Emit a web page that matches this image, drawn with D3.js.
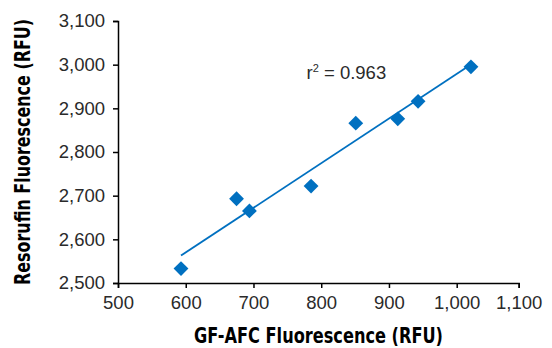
<!DOCTYPE html>
<html><head><meta charset="utf-8">
<script src="https://cdn.jsdelivr.net/npm/d3@7"></script>
<style>
html,body{margin:0;padding:0;background:#fff;}
svg{display:block;}
</style></head>
<body>
<svg id="chart" width="552" height="348"></svg>
<script>
// data
const gfAfc = [593, 675, 694, 785, 851, 913, 943, 1023];
const resorufin = [2533, 2693, 2665, 2722, 2866, 2876, 2916, 2995];
const xTicks = [500, 600, 700, 800, 900, 1000, 1100];
const yTicks = [2500, 2600, 2700, 2800, 2900, 3000, 3100];
const r2Label = "0.963";
const xTitle = "GF-AFC Fluorescence (RFU)";
const yTitle = "Resorufin Fluorescence (RFU)";

const svg = d3.select("#chart");
const blue = "#0070c0";

const x = d3.scaleLinear().domain([500, 1000, 1100]).range([118, 456.7, 518.7]);
const y = d3.scaleLinear().domain([2500, 3100]).range([283, 21]);

const fmt = d3.format(",");
const tickFont = "'Liberation Sans', Arial, Helvetica, sans-serif";

const xAxis = svg.append("g").attr("transform", `translate(0,${y(2500)})`)
  .call(d3.axisBottom(x).tickValues(xTicks).tickFormat(fmt).tickSizeInner(5).tickSizeOuter(5).tickPadding(7.5));
const yAxis = svg.append("g").attr("transform", `translate(${x(500)},0)`)
  .call(d3.axisLeft(y).tickValues(yTicks).tickFormat(fmt).tickSizeInner(5).tickSizeOuter(5).tickPadding(8));

[xAxis, yAxis].forEach(g => {
  g.select(".domain").attr("stroke", "#000").attr("stroke-width", 1.5);
  g.selectAll(".tick line").attr("stroke", "#000").attr("stroke-width", 1.5);
  g.selectAll(".tick text").attr("fill", "#2a2a2a")
    .style("font-family", tickFont).style("font-size", "18.5px");
});

// regression line
const n = gfAfc.length;
const mx = d3.mean(gfAfc), my = d3.mean(resorufin);
let sxy = 0, sxx = 0;
for (let i = 0; i < n; i++) { sxy += (gfAfc[i]-mx)*(resorufin[i]-my); sxx += (gfAfc[i]-mx)**2; }
const slope = sxy / sxx, icpt = my - slope * mx;
const x0 = d3.min(gfAfc), x1 = d3.max(gfAfc);
svg.append("line")
  .attr("x1", x(x0)).attr("y1", y(icpt + slope*x0))
  .attr("x2", x(x1)).attr("y2", y(icpt + slope*x1))
  .attr("stroke", blue).attr("stroke-width", 1.8);

// points
const diamond = d3.symbol().type(d3.symbolSquare).size(110);
svg.append("g").selectAll("path").data(gfAfc).join("path")
  .attr("d", diamond)
  .attr("transform", (d, i) => `translate(${x(d)},${y(resorufin[i])}) rotate(45)`)
  .attr("fill", blue);

// r^2 label
const rt = svg.append("text").attr("x", 306.5).attr("y", 79.3)
  .attr("fill", "#2a2a2a").style("font-family", tickFont).style("font-size", "18.5px");
rt.append("tspan").text("r");
rt.append("tspan").attr("dy", -7).style("font-size", "11px").text("2");
rt.append("tspan").attr("dy", 7).text(" = " + r2Label);

// axis titles
const titleFont = "'Liberation Sans Narrow', 'Arial Narrow', 'DejaVu Sans Condensed', sans-serif";
svg.append("text").attr("x", 318.5).attr("y", 343)
  .attr("text-anchor", "middle").attr("fill", "#000")
  .style("font-family", titleFont).style("font-weight", "bold").style("font-size", "21px")
  .attr("textLength", 249).attr("lengthAdjust", "spacingAndGlyphs")
  .text(xTitle);
svg.append("text").attr("transform", "translate(30,152) rotate(-90)")
  .attr("text-anchor", "middle").attr("fill", "#000")
  .style("font-family", titleFont).style("font-weight", "bold").style("font-size", "21px")
  .attr("textLength", 266).attr("lengthAdjust", "spacingAndGlyphs")
  .text(yTitle);
</script>
</body></html>
